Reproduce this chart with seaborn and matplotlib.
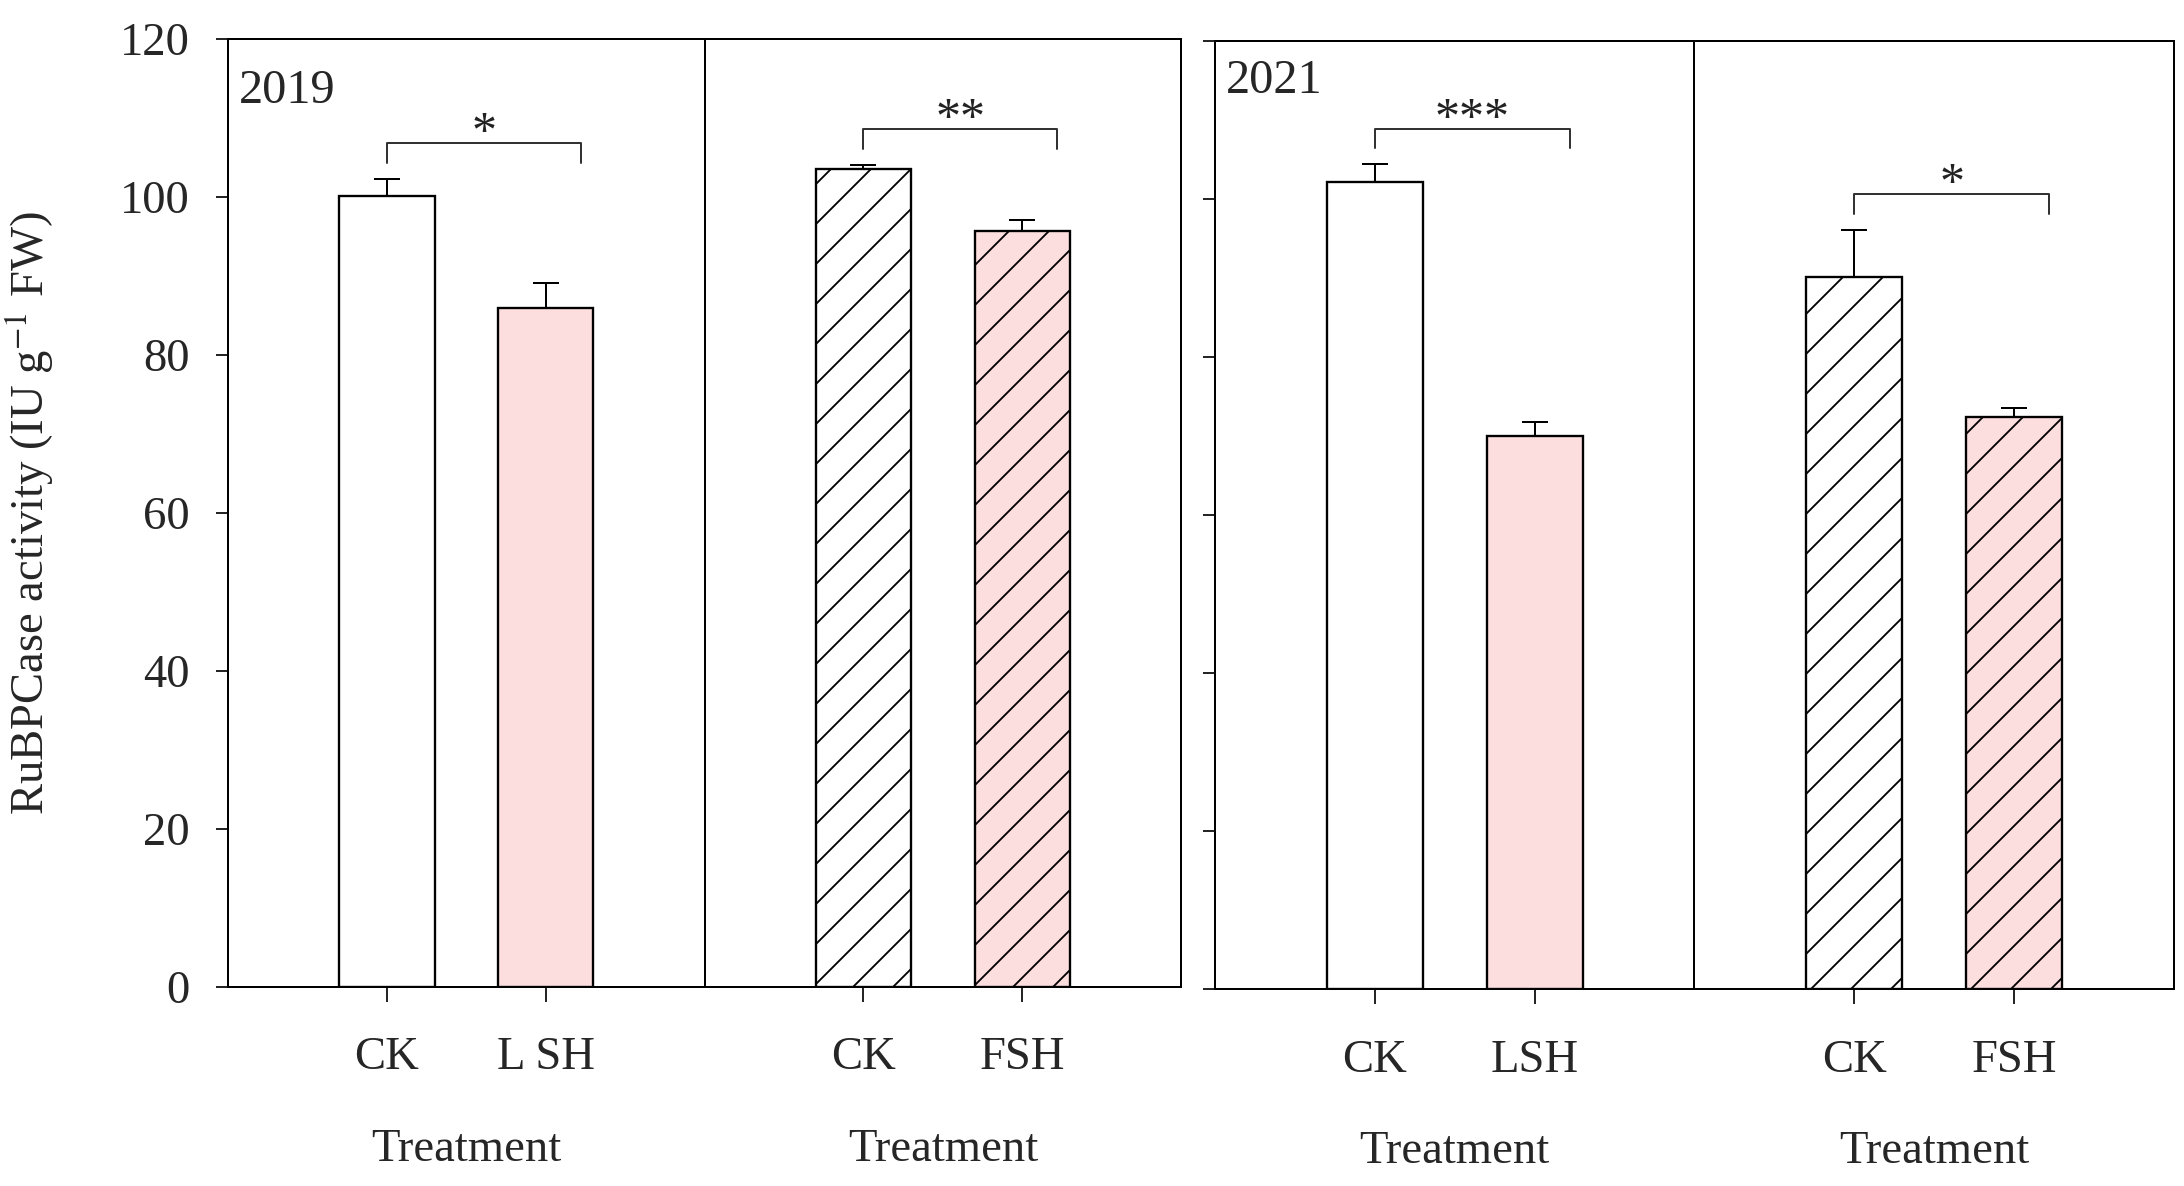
import numpy as np
import pandas as pd
import matplotlib
matplotlib.use("Agg")
import matplotlib.pyplot as plt
import seaborn as sns

# bar values (IU g-1 FW), upper SE only
positions = [1, 2, 4, 5]
labels_2019 = ["CK", "L SH", "CK", "FSH"]
labels_2021 = ["CK", "LSH", "CK", "FSH"]
groups = ["CK_L", "SH_L", "CK_F", "SH_F"]
mean_2019 = [100.1, 85.9, 103.6, 95.7]
err_2019 = [2.2, 3.2, 0.5, 1.4]
mean_2021 = [102.1, 70.0, 90.1, 72.4]
err_2021 = [2.3, 1.8, 6.0, 1.1]
stars_2019 = ["*", "**"]
stars_2021 = ["***", "*"]

sns.set_theme(style="ticks")
plt.rcParams["font.family"] = ["Liberation Serif", "DejaVu Serif"]
plt.rcParams["mathtext.fontset"] = "stix"
plt.rcParams["hatch.linewidth"] = 0.55
plt.rcParams["axes.linewidth"] = 0.6

palette = {"CK_L": "white", "SH_L": "#fddede", "CK_F": "white", "SH_F": "#fddede"}

fig = plt.figure(figsize=(9.1, 1186 / 240), dpi=240)
ax1 = fig.add_axes([0.1044, 0.1678, 0.4364, 0.7993])
ax2 = fig.add_axes([0.5563, 0.1661, 0.4391, 0.7993])


def draw_panel(ax, means, errs, ticklabels, stars, year, year_y, show_ylabels):
    df = pd.DataFrame({"pos": positions, "value": means, "group": groups})
    sns.barplot(data=df, x="pos", y="value", hue="group", palette=palette,
                dodge=False, native_scale=True, width=0.6, errorbar=None,
                saturation=1, edgecolor="black", linewidth=0.7, legend=False, ax=ax)
    for p in ax.patches:
        if p.get_x() + p.get_width() / 2 > 3:
            p.set_hatch("//")
    ax.errorbar(positions, means, yerr=[np.zeros(len(errs)), errs], fmt="none",
                ecolor="black", elinewidth=0.6, capsize=3.9, capthick=0.6, zorder=3)

    # significance brackets
    for k, s in enumerate(stars):
        i, j = 2 * k, 2 * k + 1
        leg = max(means[i] + errs[i], means[j] + errs[j]) + 2.0
        top = leg + 2.5
        x0, x1 = positions[i], positions[j] + 0.22
        ax.plot([x0, x0, x1, x1], [leg, top, top, leg], color="#333333", lw=0.6)
        ax.text((x0 + x1) / 2, top - 0.4, s, ha="center", va="baseline",
                fontsize=15, color="#222222")

    ax.axvline(3, color="black", lw=0.6)
    ax.set_xlim(0, 6)
    ax.set_ylim(0, 120)
    ax.set_xticks(positions)
    ax.set_xticklabels(ticklabels, fontsize=14)
    ax.set_yticks(range(0, 121, 20))
    if show_ylabels:
        ax.set_yticklabels([str(v) for v in range(0, 121, 20)], fontsize=14)
    else:
        ax.set_yticklabels([])
    ax.tick_params(axis="x", direction="out", length=4.5, width=0.6, pad=10.5)
    ax.tick_params(axis="y", direction="out", length=3.5, width=0.6, pad=8)
    for sp in ax.spines.values():
        sp.set_visible(True)
        sp.set_linewidth(0.6)
        sp.set_color("black")
    ax.set_xlabel("")
    ax.set_ylabel("")
    for xc in (1.5, 4.5):
        ax.text(xc, -0.172, "Treatment", transform=ax.get_xaxis_transform(),
                ha="center", va="center", fontsize=14)
    ax.text(0.07, year_y, year, ha="left", va="center", fontsize=14.5)


draw_panel(ax1, mean_2019, err_2019, labels_2019, stars_2019, "2019", 113.4, True)
draw_panel(ax2, mean_2021, err_2021, labels_2021, stars_2021, "2021", 115.0, False)

ax1.set_ylabel(r"RuBPCase activity (IU g$^{-1}$ FW)", fontsize=14)
ax1.yaxis.set_label_coords(-0.18, 0.5)

fig.savefig("out.png", dpi=240, facecolor="white")
